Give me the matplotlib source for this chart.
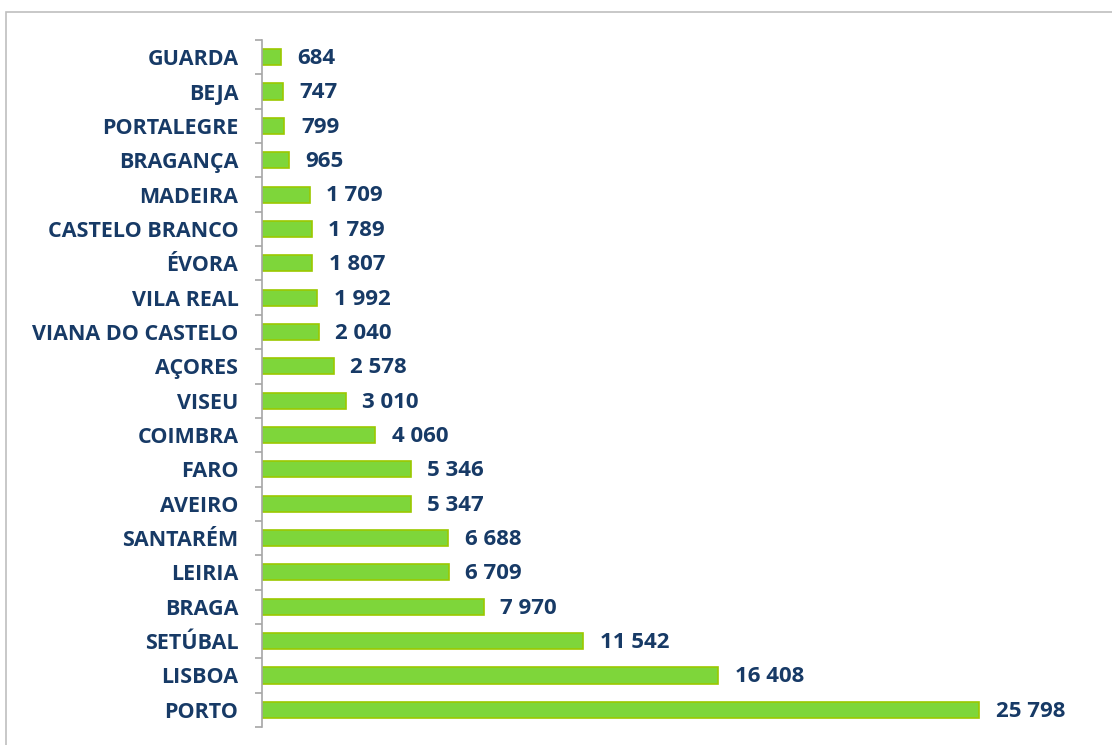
import numpy as np
import matplotlib.pyplot as plt
from matplotlib.patches import Rectangle

districts = ["GUARDA", "BEJA", "PORTALEGRE", "BRAGANÇA", "MADEIRA", "CASTELO BRANCO",
             "ÉVORA", "VILA REAL", "VIANA DO CASTELO", "AÇORES", "VISEU", "COIMBRA",
             "FARO", "AVEIRO", "SANTARÉM", "LEIRIA", "BRAGA", "SETÚBAL", "LISBOA", "PORTO"]
values = [684, 747, 799, 965, 1709, 1789, 1807, 1992, 2040, 2578, 3010, 4060,
          5346, 5347, 6688, 6709, 7970, 11542, 16408, 25798]


def fmt(v):
    return f"{v:,}".replace(",", " ")


plt.rcParams["font.family"] = ["Open Sans", "DejaVu Sans"]
text_color = "#173A66"

fig = plt.figure(figsize=(11.12, 7.45), dpi=100)
fig.patches.append(Rectangle((6 / 1112, -0.1), 1.2, 1 - 12 / 745 + 0.1,
                             transform=fig.transFigure, fill=False,
                             edgecolor="#BFBFBF", linewidth=1.2))
ax = fig.add_axes([262 / 1112, 18 / 745, 834 / 1112, 687 / 745])

y = np.arange(len(districts))[::-1]
ax.barh(y, values, height=0.47, color="#7ED63A", edgecolor="#9BC800", linewidth=1.2)

for yi, v in zip(y, values):
    ax.annotate(fmt(v), (v, yi), xytext=(12, -1), textcoords="offset points",
                va="center", ha="left", fontsize=16, fontweight="bold", color=text_color)

ax.set_xlim(0, 30000)
ax.set_ylim(-0.5, len(districts) - 0.5)
ax.set_yticks(y)
ax.set_yticklabels(districts, fontsize=15.5, fontweight="bold", color=text_color)
ax.set_yticks(np.arange(-0.5, len(districts)), minor=True)
ax.tick_params(axis="y", which="major", length=0, pad=17)
ax.tick_params(axis="y", which="minor", length=5, color="#A6A6A6", width=1.2)
ax.set_xticks([])
for side in ["top", "right", "bottom"]:
    ax.spines[side].set_visible(False)
ax.spines["left"].set_color("#A6A6A6")
ax.spines["left"].set_linewidth(1.2)

fig.savefig("out.png", dpi=100)
